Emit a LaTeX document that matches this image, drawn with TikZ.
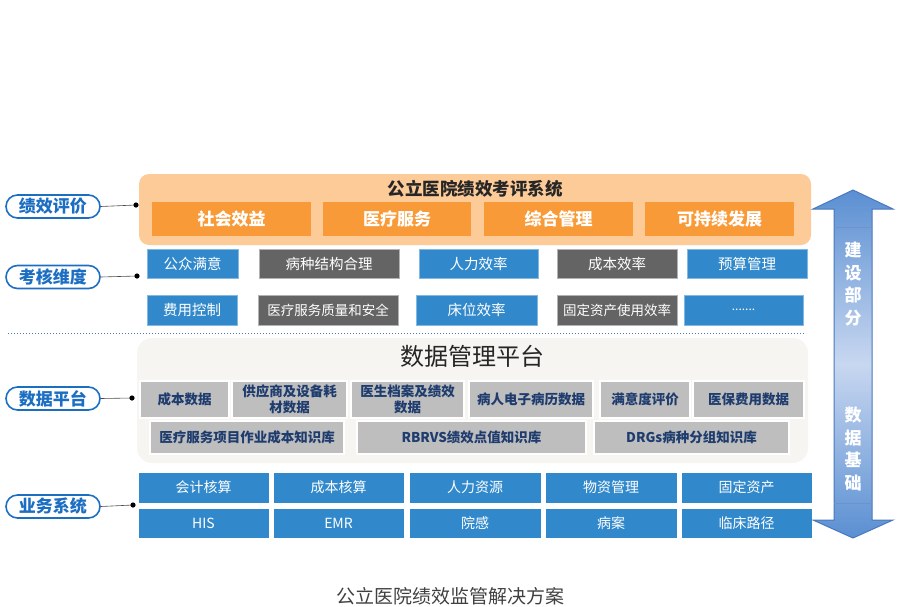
\documentclass[tikz,border=0pt]{standalone}
\usepackage{fontspec}
\setmainfont{Noto Sans CJK SC}
\definecolor{orgbg}{HTML}{FDCB98}
\definecolor{org}{HTML}{F99A38}
\definecolor{blu}{HTML}{3189CB}
\definecolor{dgray}{HTML}{646464}
\definecolor{lgray}{HTML}{BEBEBE}
\definecolor{navy}{HTML}{1F3C6E}
\definecolor{platbg}{HTML}{F6F5F1}
\definecolor{lblue}{HTML}{1B6EC2}
\definecolor{arrdark}{HTML}{5A8FD2}
\definecolor{arrlight}{HTML}{C8D7F0}
\definecolor{arredge}{HTML}{4A78BE}
\definecolor{captxt}{HTML}{404040}
\newcommand\fs[2]{\fontsize{#1}{#2}\selectfont}
\begin{document}
\begin{tikzpicture}[x=1pt,y=-1pt,
  box/.style={inner sep=0pt, outer sep=0pt, align=center},
  orgbox/.style={box, fill=org, text=white, font=\fs{17}{20}\bfseries, minimum height=34},
  bluebox/.style={box, fill=blu, draw=blu!60!white, line width=0.6pt, text=white, font=\fs{14.5}{17}},
  graybox/.style={box, fill=dgray, draw=gray!60, line width=0.6pt, text=white, font=\fs{14.5}{17}},
  databox/.style={box, fill=lgray, draw=white, line width=1.2pt, text=navy, font=\fs{13.5}{16}\bfseries},
  sysbox/.style={box, fill=blu, draw=white, line width=0.8pt, text=white, font=\fs{14}{17}},
  pill/.style={draw=lblue, fill=white, line width=1.6pt, rounded corners=11.5pt, minimum width=94, minimum height=23, text=lblue, font=\fs{17}{20}\bfseries, inner sep=0pt},
  link/.style={draw=black!70, line width=0.6pt},
  dotc/.style={fill=black},
  arrtxt/.style={box, text=white, font=\fs{17}{22.7}\bfseries, text width=20}
]
\useasboundingbox (0,0) rectangle (900,606);

% evaluation system
\node[box, fill=orgbg, rounded corners=10pt, minimum width=672, minimum height=71] (eval) at (475,209.5) {};
\node[box, text=black!85, font=\fs{17.5}{20}\bfseries] (evaltitle) at (475,189) {公立医院绩效考评系统};
\node[orgbox, minimum width=159] (o1) at (231.5,219) {社会效益};
\node[orgbox, minimum width=148] (o2) at (397,219) {医疗服务};
\node[orgbox, minimum width=149] (o3) at (558.5,219) {综合管理};
\node[orgbox, minimum width=149] (o4) at (719.5,219) {可持续发展};

% assessment dimensions
\node[bluebox, minimum width=91, minimum height=29] (k11) at (192.5,264) {公众满意};
\node[graybox, minimum width=140, minimum height=29] (k12) at (329,264) {病种结构合理};
\node[bluebox, minimum width=119, minimum height=29] (k13) at (478.5,264) {人力效率};
\node[graybox, minimum width=120, minimum height=29] (k14) at (617,264) {成本效率};
\node[bluebox, minimum width=120, minimum height=29] (k15) at (747,264) {预算管理};
\node[bluebox, minimum width=90, minimum height=30] (k21) at (192,310) {费用控制};
\node[graybox, minimum width=140, minimum height=30, font=\fs{13.5}{16}] (k22) at (328,310) {医疗服务质量和安全};
\node[bluebox, minimum width=121, minimum height=30] (k23) at (476.5,310) {床位效率};
\node[graybox, minimum width=120, minimum height=30, font=\fs{13.5}{16}] (k24) at (617,310) {固定资产使用效率};
\node[bluebox, minimum width=119, minimum height=30, font=\fs{12}{14}] (k25) at (743.5,310) {.......};

% dotted separator
\coordinate (sepL) at (8,333);
\coordinate (sepR) at (806,333);
\draw[arredge, line width=1pt, dash pattern=on 1pt off 2pt] (sepL) -- (sepR);

% data platform
\node[box, fill=platbg, rounded corners=15pt, minimum width=671, minimum height=125] (plat) at (472.5,400.5) {};
\node[box, text=black!85, font=\fs{24}{28}] (plattitle) at (472,356) {数据管理平台};
\node[databox, minimum width=89, minimum height=37] (d1) at (184.5,399.5) {成本数据};
\node[databox, minimum width=115, minimum height=37] (d2) at (289.5,399.5) {供应商及设备耗\\材数据};
\node[databox, minimum width=113, minimum height=37] (d3) at (407.5,399.5) {医生档案及绩效\\数据};
\node[databox, minimum width=124, minimum height=37] (d4) at (531,399.5) {病人电子病历数据};
\node[databox, minimum width=90, minimum height=37] (d5) at (645,399.5) {满意度评价};
\node[databox, minimum width=111, minimum height=37] (d6) at (748.5,399.5) {医保费用数据};
\node[databox, minimum width=194, minimum height=33] (e1) at (247,437.5) {医疗服务项目作业成本知识库};
\node[databox, minimum width=229, minimum height=33] (e2) at (471.5,437.5) {RBRVS绩效点值知识库};
\node[databox, minimum width=195, minimum height=33] (e3) at (691.5,437.5) {DRGs病种分组知识库};

% business systems
\node[sysbox, minimum width=131, minimum height=31] (s11) at (203.5,487.5) {会计核算};
\node[sysbox, minimum width=131, minimum height=31] (s12) at (338.5,487.5) {成本核算};
\node[sysbox, minimum width=132, minimum height=31] (s13) at (475,487.5) {人力资源};
\node[sysbox, minimum width=132, minimum height=31] (s14) at (611,487.5) {物资管理};
\node[sysbox, minimum width=131, minimum height=31] (s15) at (746.5,487.5) {固定资产};
\node[sysbox, minimum width=131, minimum height=30] (s21) at (203.5,523) {HIS};
\node[sysbox, minimum width=131, minimum height=30] (s22) at (338.5,523) {EMR};
\node[sysbox, minimum width=132, minimum height=30] (s23) at (475,523) {院感};
\node[sysbox, minimum width=132, minimum height=30] (s24) at (611,523) {病案};
\node[sysbox, minimum width=131, minimum height=30] (s25) at (746.5,523) {临床路径};

% left labels
\node[pill] (l1) at (53,206.5) {绩效评价};
\node[pill] (l2) at (53,277) {考核维度};
\node[pill] (l3) at (53,398.5) {数据平台};
\node[pill] (l4) at (53,506.5) {业务系统};
\coordinate (c1) at (136,205);
\coordinate (c2) at (137,276);
\coordinate (c3) at (132,398);
\coordinate (c4) at (133,505);
\draw[link] (l1.east) -- (c1);
\draw[link] (l2.east) -- (c2);
\draw[link] (l3.east) -- (c3);
\draw[link] (l4.east) -- (c4);
\fill[dotc] (c1) circle (2.6);
\fill[dotc] (c2) circle (2.6);
\fill[dotc] (c3) circle (2.6);
\fill[dotc] (c4) circle (2.6);

% double arrow
\draw[arredge, line width=1pt, top color=arrdark, bottom color=arrdark, middle color=arrlight]
  (853,190) -- (893,209) -- (872,209) -- (872,520) -- (893,520) -- (853,538)
  -- (813,520) -- (834,520) -- (834,209) -- (813,209) -- cycle;
\draw[arredge!80, line width=0.6pt] (834,227) -- (872,227);
\draw[arredge!80, line width=0.6pt] (834,503) -- (872,503);
\node[arrtxt] (up) at (853,284) {建\\设\\部\\分};
\node[arrtxt] (down) at (853,449) {数\\据\\基\\础};

% caption
\node[box, text=captxt, font=\fs{19}{22}] (cap) at (450,596) {公立医院绩效监管解决方案};
\end{tikzpicture}
\end{document}
